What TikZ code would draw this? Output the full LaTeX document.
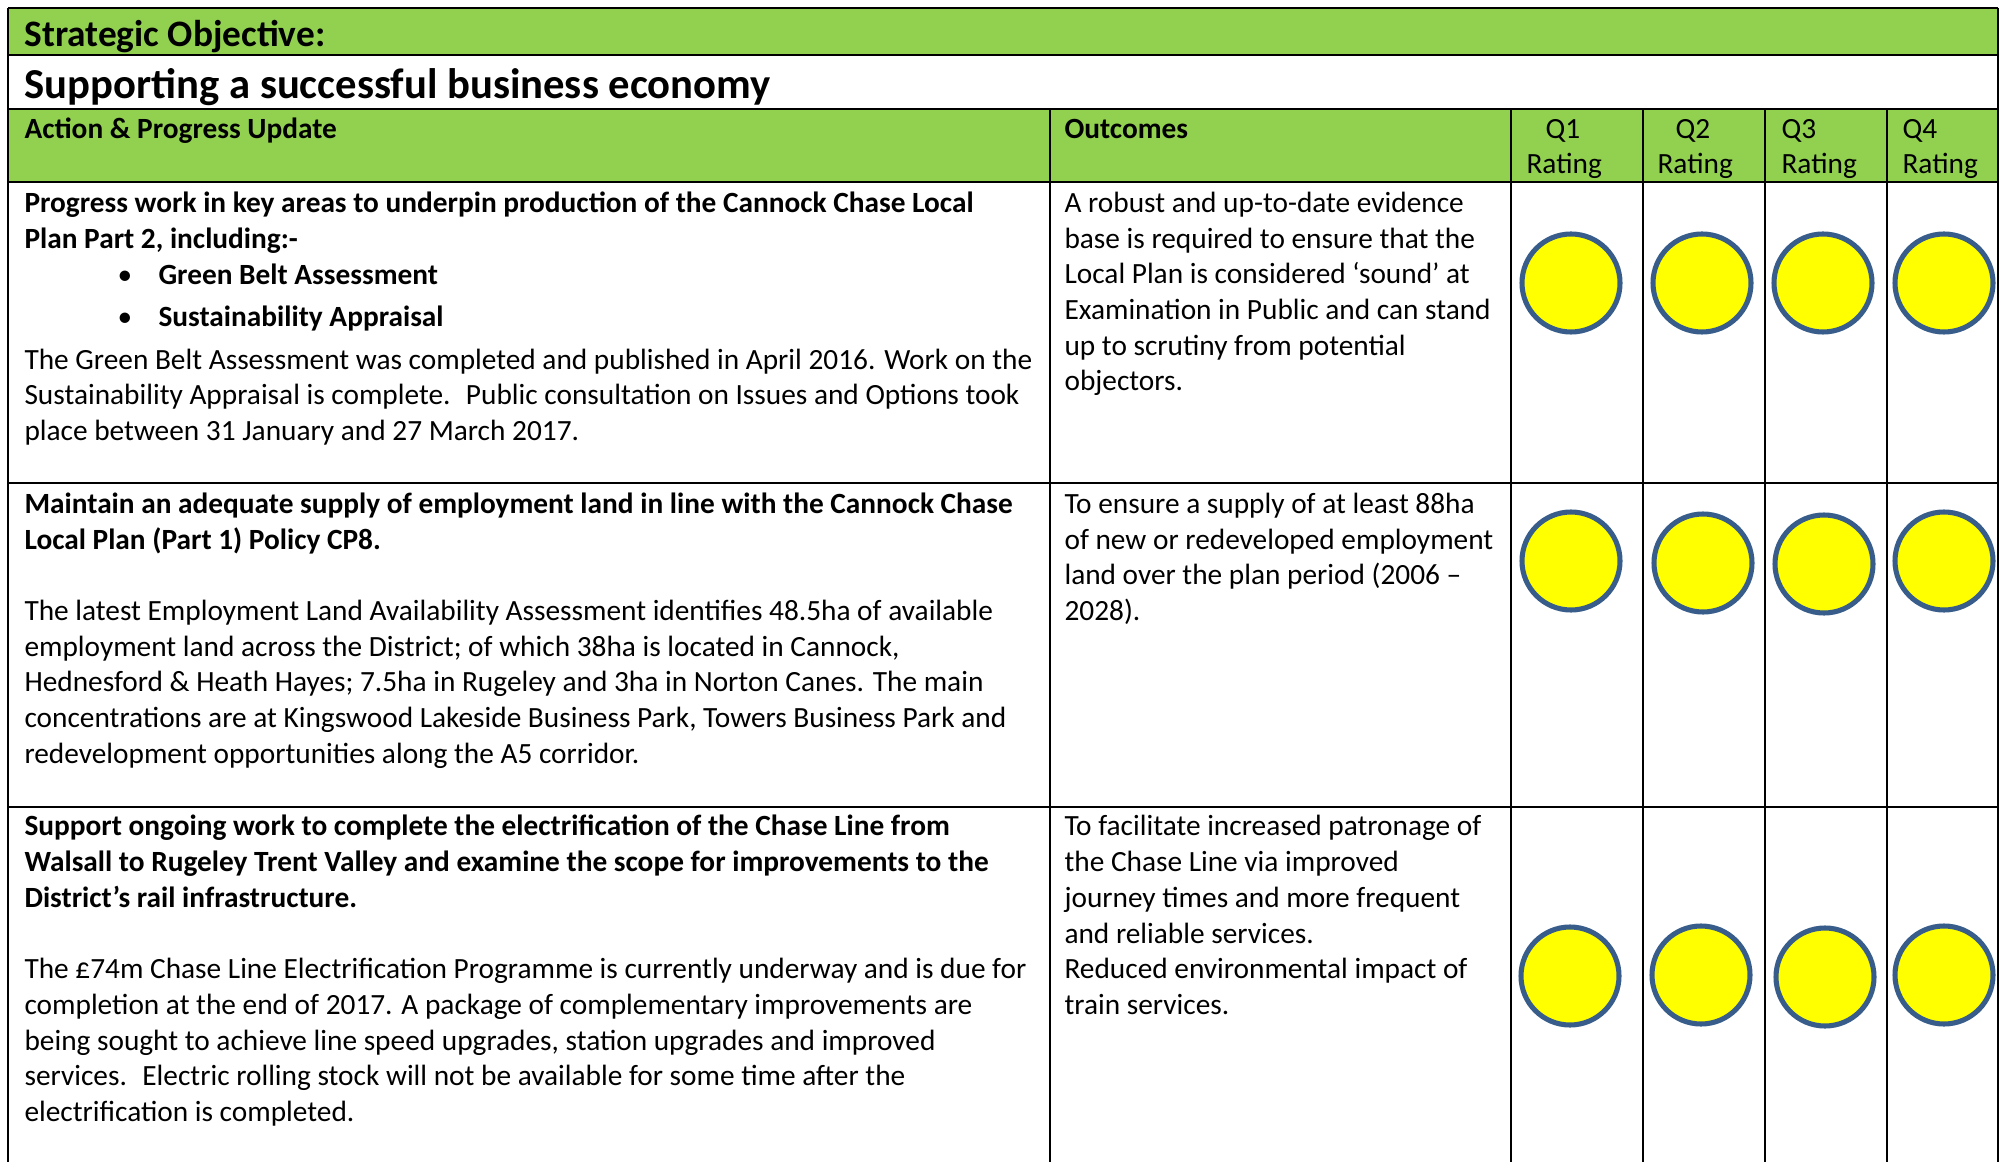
\documentclass[tikz,border=0pt]{standalone}
\usepackage{fontspec}
\setmainfont{Carlito}
\definecolor{hdrgreen}{RGB}{146,208,80}
\definecolor{ringblue}{RGB}{56,93,138}
\definecolor{dotyellow}{RGB}{255,255,0}
\tikzset{
  txt/.style={anchor=base west, inner sep=0pt, yshift=-0.9pt, font=\fontsize{11}{13.4}\selectfont},
  btxt/.style={anchor=base west, inner sep=0pt, yshift=-0.9pt, font=\fontsize{11}{13.4}\selectfont\bfseries},
  gridline/.style={line width=0.9pt, black},
  rating/.style={circle, draw=ringblue, fill=dotyellow, line width=1.9pt, inner sep=0pt, minimum size=36.75pt},
}
\newcommand\putlines[5]{%
  \foreach \ln [count=\i] in {#5} {\node[#2] (#1-\i) at ({#3},{#4+(\i-1)*35.7}) {\ln};}}
\begin{document}
\begin{tikzpicture}[x=0.375pt, y=-0.375pt]
\useasboundingbox (0,0) rectangle (2000,1162);
% fills
\fill[white] (0,0) rectangle (2000,1162);
\fill[hdrgreen] (8,8) rectangle (1998,55);
\fill[hdrgreen] (8,109) rectangle (1998,182);
% grid
\draw[gridline] (8,8) -- (1998,8);
\draw[gridline] (8,55) -- (1998,55);
\draw[gridline] (8,109) -- (1998,109);
\draw[gridline] (8,182) -- (1998,182);
\draw[gridline] (8,483) -- (1998,483);
\draw[gridline] (8,807) -- (1998,807);
\draw[gridline] (8,8) -- (8,1162);
\draw[gridline] (1998,8) -- (1998,1162);
\foreach \cx in {1050,1511,1643,1765,1887} \draw[gridline] (\cx,109) -- (\cx,1162);
% headers
\node[anchor=base west, inner sep=0pt, yshift=-0.9pt, font=\fontsize{14}{16}\selectfont\bfseries] (so) at (24,44) {Strategic Objective:};
\node[anchor=base west, inner sep=0pt, yshift=-0.9pt, font=\fontsize{16}{19}\selectfont\bfseries] (title) at (24,96) {Supporting a successful business economy};
\node[btxt] (hact) at (24,136) {Action \& Progress Update};
\node[btxt] (hout) at (1064,136) {Outcomes};
\node[txt] (hq1) at (1545,136) {Q1};
\node[txt] (hq1r) at (1526,171.5) {Rating};
\node[txt] (hq2) at (1675,136) {Q2};
\node[txt] (hq2r) at (1657,171.5) {Rating};
\node[txt] (hq3) at (1781,136) {Q3};
\node[txt] (hq3r) at (1781,171.5) {Rating};
\node[txt] (hq4) at (1902,136) {Q4};
\node[txt] (hq4r) at (1902,171.5) {Rating};
% row 1
\putlines{ra}{btxt}{24}{210}{{Progress work in key areas to underpin production of the Cannock Chase Local},{Plan Part 2, including:-}}
\node[txt] (rab1) at (117,282.5) {•};
\node[btxt] (rai1) at (158,282.5) {Green Belt Assessment};
\node[txt] (rab2) at (117,324.6) {•};
\node[btxt] (rai2) at (158,324.6) {Sustainability Appraisal};
\putlines{rap}{txt}{24}{366.7}{{The Green Belt Assessment was completed and published in April 2016. Work on the},{Sustainability Appraisal is complete.~ Public consultation on Issues and Options took},{place between 31 January and 27 March 2017.}}
\putlines{rao}{txt}{1064}{210}{{A robust and up-to-date evidence},{base is required to ensure that the},{Local Plan is considered ‘sound’ at},{Examination in Public and can stand},{up to scrutiny from potential},{objectors.}}
% row 2
\putlines{rb}{btxt}{24}{511}{{Maintain an adequate supply of employment land in line with the Cannock Chase},{Local Plan (Part 1) Policy CP8.}}
\putlines{rbp}{txt}{24}{618}{{The latest Employment Land Availability Assessment identifies 48.5ha of available},{employment land across the District; of which 38ha is located in Cannock,},{Hednesford \& Heath Hayes; 7.5ha in Rugeley and 3ha in Norton Canes. The main},{concentrations are at Kingswood Lakeside Business Park, Towers Business Park and},{redevelopment opportunities along the A5 corridor.}}
\putlines{rbo}{txt}{1064}{511}{{To ensure a supply of at least 88ha},{of new or redeveloped employment},{land over the plan period (2006 –},{2028).}}
% row 3
\putlines{rc}{btxt}{24}{833.5}{{Support ongoing work to complete the electrification of the Chase Line from},{Walsall to Rugeley Trent Valley and examine the scope for improvements to the},{District’s rail infrastructure.}}
\putlines{rcp}{txt}{24}{976.3}{{The £74m Chase Line Electrification Programme is currently underway and is due for},{completion at the end of 2017. A package of complementary improvements are},{being sought to achieve line speed upgrades, station upgrades and improved},{services.~ Electric rolling stock will not be available for some time after the},{electrification is completed.}}
\putlines{rco}{txt}{1064}{833.5}{{To facilitate increased patronage of},{the Chase Line via improved},{journey times and more frequent},{and reliable services.},{Reduced environmental impact of},{train services.}}
% ratings
\node[rating] (a1) at (1571,283) {};
\node[rating] (a2) at (1702,283) {};
\node[rating] (a3) at (1823,283) {};
\node[rating] (a4) at (1944,283) {};
\node[rating] (b1) at (1571,561) {};
\node[rating] (b2) at (1703,563) {};
\node[rating] (b3) at (1824,564) {};
\node[rating] (b4) at (1944,561) {};
\node[rating] (c1) at (1570,976) {};
\node[rating] (c2) at (1701,975) {};
\node[rating] (c3) at (1825,977) {};
\node[rating] (c4) at (1944,975) {};
\end{tikzpicture}
\end{document}
